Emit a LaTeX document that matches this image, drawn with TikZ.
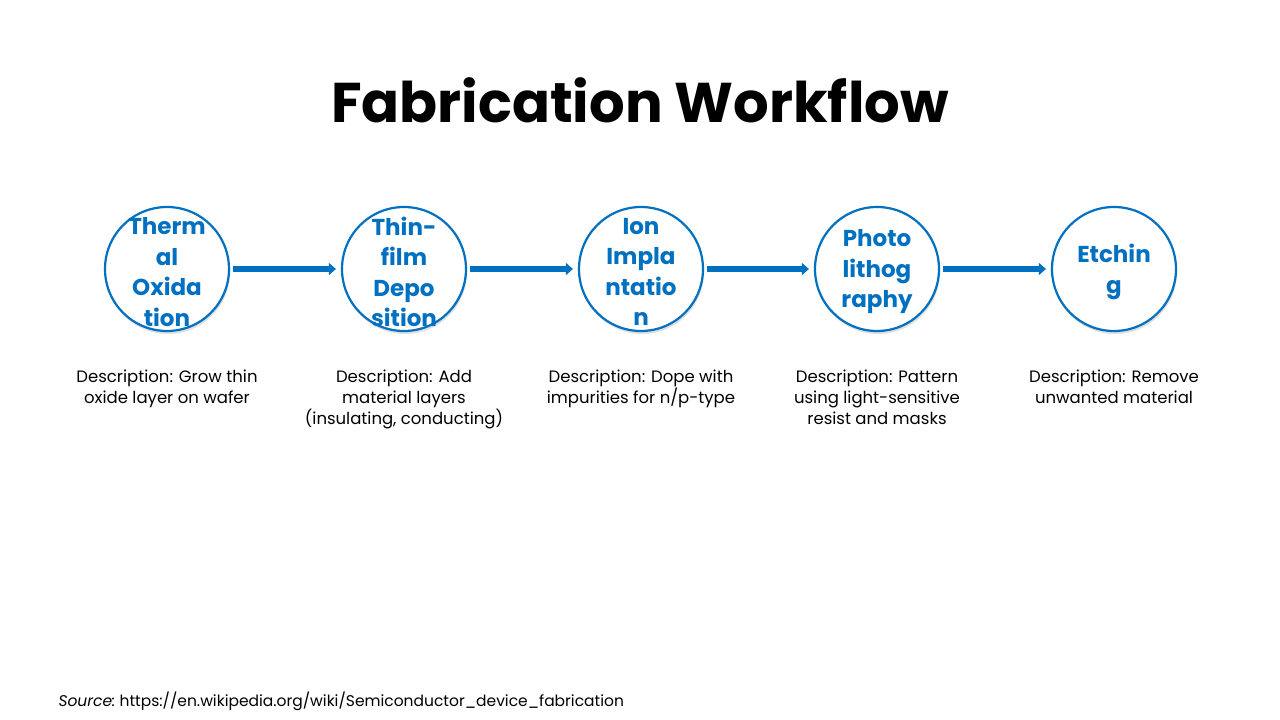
\documentclass[tikz,border=0pt]{standalone}
\usepackage{fontspec}
\setmainfont{Poppins}
\usetikzlibrary{arrows.meta,shadows}

\definecolor{stepblue}{HTML}{0070C0}

\tikzset{
  stepcircle/.style={circle, draw=stepblue, line width=2.2pt, fill=white,
    minimum size=124pt, inner sep=0pt,
    drop shadow={shadow xshift=1pt, shadow yshift=-3pt, opacity=0.25, fill=black!50}},
  steptext/.style={align=center, inner sep=0pt, yshift=-3pt,
    font=\fontsize{23}{30.5}\selectfont\bfseries, text=stepblue},
  steparrow/.style={draw=stepblue, line width=5.5pt,
    -{Triangle[length=7pt,width=12pt]}, shorten <=3pt, shorten >=5pt},
  desc/.style={align=center, font=\fontsize{16.5}{21}\selectfont, text=black}
}

\begin{document}
\begin{tikzpicture}[x=1pt,y=-1pt]

  \useasboundingbox[fill=white] (0,0) rectangle (1280,720);

  \node[font=\fontsize{56}{64}\selectfont\bfseries] (title) at (640,100) {Fabrication Workflow};

  % process steps
  \node[stepcircle, label={[steptext]center:Therm\\al\\Oxida\\tion}] (oxid) at (167,269) {};
  \node[stepcircle, label={[steptext]center:Thin-\\film\\Depo\\sition}] (depo) at (404,269) {};
  \node[stepcircle, label={[steptext]center:Ion\\Impla\\ntatio\\n}] (impl) at (641,269) {};
  \node[stepcircle, label={[steptext]center:Photo\\lithog\\raphy}] (litho) at (877,269) {};
  \node[stepcircle, label={[steptext]center:Etchin\\g}] (etch) at (1114,269) {};

  \draw[steparrow] (oxid) -- (depo);
  \draw[steparrow] (depo) -- (impl);
  \draw[steparrow] (impl) -- (litho);
  \draw[steparrow] (litho) -- (etch);

  % descriptions
  \node[desc, anchor=north] (doxid) at (167,366) {Description: Grow thin\\oxide layer on wafer};
  \node[desc, anchor=north] (ddepo) at (404,366) {Description: Add\\material layers\\(insulating, conducting)};
  \node[desc, anchor=north] (dimpl) at (641,366) {Description: Dope with\\impurities for n/p-type};
  \node[desc, anchor=north] (dlitho) at (877,366) {Description: Pattern\\using light-sensitive\\resist and masks};
  \node[desc, anchor=north] (detch) at (1114,366) {Description: Remove\\unwanted material};

  \node[anchor=west, font=\fontsize{15.5}{19}\selectfont] (source) at (55,701)
    {\textit{Source:}~https://en.wikipedia.org/wiki/Semiconductor\_device\_fabrication};

\end{tikzpicture}
\end{document}
